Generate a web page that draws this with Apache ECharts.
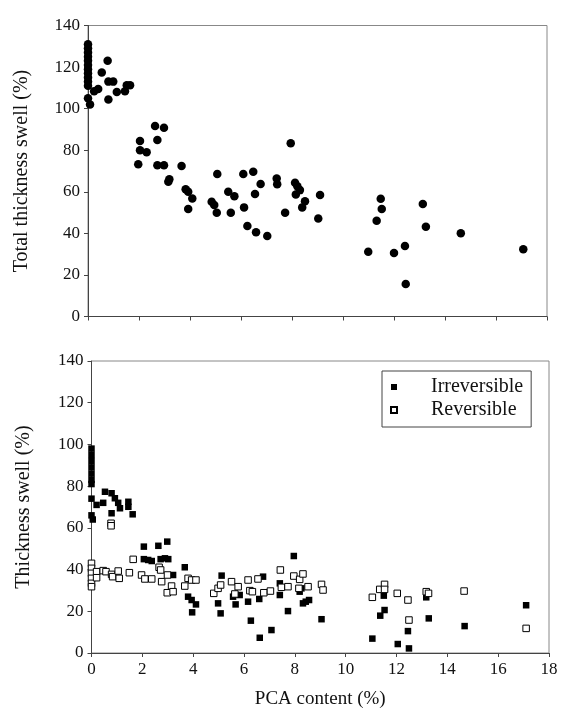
<!DOCTYPE html>
<html>
<head>
<meta charset="utf-8">
<script src="https://cdn.jsdelivr.net/npm/echarts@6/dist/echarts.min.js"></script>
<style>html,body{margin:0;padding:0;background:#fff;}#c{width:562px;height:716px;}</style>
</head>
<body>
<div id="c"></div>
<script>
// Top panel: total thickness swell (%) vs PCA content (%)
const totalSwell = [
  [0,131],[0,129],[0,127],[0,125],[0,123],[0,121],[0,119],[0,117],[0,115],[0,113],[0,111],[0,105],
  [0.08,102],[0.24,108.4],[0.4,109.5],[0.54,117.4],[0.77,123],[0.8,113],[0.99,113],[0.8,104.4],
  [1.13,108],[1.45,108.4],[1.52,111.3],[1.65,111.3],
  [2.04,84.4],[2.04,80],[2.3,79],[2.63,91.7],[2.98,90.8],[2.72,84.9],[1.97,73.2],[2.72,72.8],[2.98,72.8],
  [3.67,72.4],[3.15,64.8],[3.19,66],[3.83,61.2],[3.93,60],[4.09,56.8],[3.93,51.7],
  [4.85,55.2],[4.95,53.6],[5.05,49.9],[5.07,68.5],[5.5,60],[5.74,57.9],[5.6,49.9],
  [6.09,68.5],[6.12,52.5],[6.48,69.6],[6.55,58.9],[6.77,63.7],[6.25,43.5],[6.59,40.5],[7.03,38.7],
  [7.4,66.4],[7.42,63.6],[7.73,49.9],[7.95,83.3],[8.12,64.3],[8.21,62.7],[8.31,60.8],[8.15,58.7],
  [8.51,55.5],[8.4,52.5],[9.1,58.4],[9.03,47.2],
  [10.99,31.2],[11.48,56.6],[11.52,51.7],[11.32,46.1],[12.0,30.5],[12.43,33.9],[12.46,15.6],
  [13.13,54.1],[13.25,43.2],[14.62,40],[17.07,32.3]
];
// Bottom panel: irreversible and reversible thickness swell (%)
const irreversible = [
  [0,98],[0,95],[0,92],[0,89],[0,86],[0,83],[0,81],[0,74],[0,66],[0.05,64],
  [0.2,71],[0.46,72],[0.53,77.3],[0.79,76.6],[0.79,67],[0.92,74.2],[1.05,72],[1.12,69.4],
  [1.45,72.5],[1.45,70.1],[1.62,66.5],
  [2.06,51],[2.63,51.4],[2.98,53.4],[2.06,45],[2.23,44.6],[2.37,44.1],[2.72,45],[2.89,45.4],[3.02,45],
  [3.21,37.4],[3.67,41.1],[3.8,27],[3.94,25.4],[4.11,23.3],[3.96,19.5],
  [4.98,23.8],[5.12,37.1],[5.08,19],[5.57,27],[5.67,23.3],[5.83,27.8],
  [6.16,24.6],[6.27,15.5],[6.6,25.9],[6.62,7.3],[6.75,36.6],[7.08,11],
  [7.41,33.4],[7.41,27.8],[7.73,20.1],[7.96,46.5],[8.26,31],[8.19,29.4],[8.32,23.8],[8.43,24.6],[8.56,25.4],
  [9.05,16.2],[11.05,6.9],[11.36,17.9],[11.53,20.6],[11.5,27.5],[12.05,4.3],[12.45,10.5],[12.49,2.2],
  [13.17,26.7],[13.27,16.6],[14.68,12.9],[17.1,22.9]
];
const reversible = [
  [0,43],[0,40.6],[0,38.2],[0,35.8],[0,33.4],[0,31.8],
  [0.2,39],[0.2,36.1],[0.46,39.5],[0.57,39],[0.79,37.7],[0.83,36.6],[0.77,62.2],[0.77,61],
  [1.05,39.3],[1.09,35.8],[1.49,38.5],[1.64,44.9],[1.97,37.4],[2.1,35.5],[2.37,35.5],
  [2.66,41.1],[2.72,39.8],[2.76,34.2],[2.99,37.4],[3.15,32.1],[2.98,28.9],[3.21,29.4],
  [3.67,32.1],[3.8,35.8],[3.94,35],[4.11,35],[4.81,28.6],[4.98,31],[5.08,32.6],
  [5.51,34.2],[5.64,28.3],[5.77,31.8],[6.16,35],[6.23,29.9],[6.33,29.4],[6.55,35.5],[6.78,28.9],
  [7.04,29.7],[7.43,39.8],[7.47,31.5],[7.73,31.8],[7.96,36.9],[8.19,35.3],[8.32,37.9],[8.16,31],[8.52,31.8],
  [9.05,32.9],[9.11,30.2],[11.05,26.7],[11.34,30.5],[11.53,32.9],[11.53,30.5],[12.03,28.6],
  [12.45,25.4],[12.49,15.8],[13.17,29.4],[13.26,28.6],[14.66,29.7],[17.1,11.8]
];
const xTitle = 'PCA content (%)';
const yTitleTop = 'Total thickness swell (%)';
const yTitleBottom = 'Thickness swell (%)';
const seriesNames = ['Irreversible', 'Reversible'];

const FONT = 'Liberation Serif';
const axisLineStyle = {color: '#444', width: 1};
function xAxisCfg(gridIndex, showLabels) {
  return {
    type: 'value', gridIndex, min: 0, max: 18, interval: 2,
    axisLine: {show: true, onZero: false, lineStyle: axisLineStyle},
    axisTick: {show: true, length: 4, lineStyle: axisLineStyle},
    splitLine: {show: false},
    axisLabel: {show: showLabels, fontFamily: FONT, fontSize: 17, color: '#111', margin: 8},
    name: showLabels ? xTitle : '', nameLocation: 'middle', nameGap: 37,
    nameTextStyle: {fontFamily: FONT, fontSize: 19, color: '#111'}
  };
}
function yAxisCfg(gridIndex, title, gap) {
  return {
    type: 'value', gridIndex, min: 0, max: 140, interval: 20,
    axisLine: {show: true, onZero: false, lineStyle: axisLineStyle},
    axisTick: {show: true, length: 4, lineStyle: axisLineStyle},
    splitLine: {show: false},
    axisLabel: {fontFamily: FONT, fontSize: 17, color: '#111', margin: 8},
    name: title, nameLocation: 'middle', nameGap: gap, nameRotate: 90,
    nameTextStyle: {fontFamily: FONT, fontSize: 20, color: '#111'}
  };
}
const chart = echarts.init(document.getElementById('c'), null, {renderer: 'canvas'});
chart.setOption({
  backgroundColor: '#fff',
  animation: false,
  grid: [
    {left: 88, right: 15, top: 25.5, height: 291, show: true, borderColor: '#888', borderWidth: 1},
    {left: 91.5, right: 13, top: 361, height: 292, show: true, borderColor: '#888', borderWidth: 1}
  ],
  xAxis: [xAxisCfg(0, false), xAxisCfg(1, true)],
  yAxis: [yAxisCfg(0, yTitleTop, 56), yAxisCfg(1, yTitleBottom, 58)],
  legend: {
    data: seriesNames,
    orient: 'vertical', left: 382, top: 371,
    itemWidth: 6, itemHeight: 6, itemGap: 3,
    borderColor: '#444', borderWidth: 1, padding: [6, 8, 7, 8],
    textStyle: {fontFamily: FONT, fontSize: 20, color: '#111', padding: [0, 0, 0, 29]}
  },
  series: [
    {type: 'scatter', name: 'Total', xAxisIndex: 0, yAxisIndex: 0, data: totalSwell,
     symbol: 'circle', symbolSize: 8.5, itemStyle: {color: '#000', opacity: 1}},
    {type: 'scatter', name: seriesNames[0], xAxisIndex: 1, yAxisIndex: 1, data: irreversible,
     symbol: 'rect', symbolSize: 6.5, itemStyle: {color: '#000', opacity: 1}},
    {type: 'scatter', name: seriesNames[1], xAxisIndex: 1, yAxisIndex: 1, data: reversible,
     symbol: 'rect', symbolSize: 6.5, itemStyle: {color: '#fff', borderColor: '#000', borderWidth: 1, opacity: 1}}
  ]
});
</script>
</body>
</html>
